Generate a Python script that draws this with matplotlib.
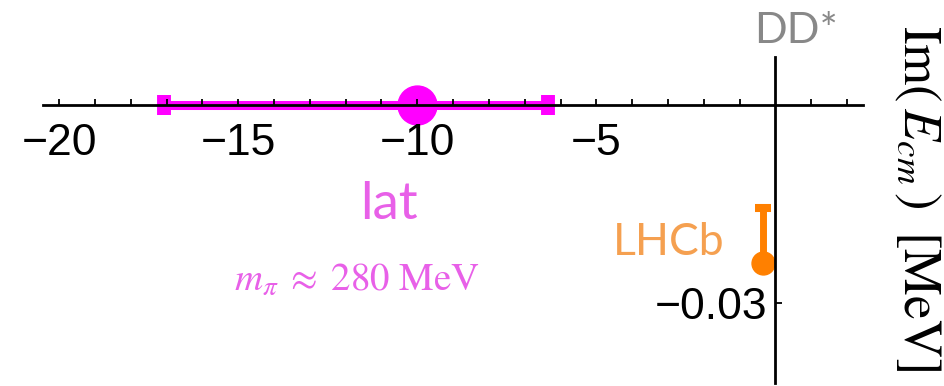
import matplotlib
matplotlib.use("Agg")
import matplotlib.pyplot as plt
from matplotlib.ticker import FixedLocator

plt.rcParams['mathtext.fontset'] = 'stix'

# ---- data ----
lat_re = [-10.0]
lat_im = [0.0]
lat_re_lo = [-17.07]
lat_re_hi = [-6.34]

lhcb_re = [-0.34]
lhcb_im = [-0.0240]
lhcb_im_hi = [-0.0156]

x_major = [-20, -15, -10, -5]
x_major_labels = ["\u221220", "\u221215", "\u221210", "\u22125"]
x_minor = [v for v in range(-20, 3) if v not in (-20, -15, -10, -5, 0)]
y_major = [-0.03]
y_major_labels = ["\u22120.03"]

W, H = 944, 386
fig = plt.figure(figsize=(W / 100, H / 100), dpi=100)
ax = fig.add_axes([0, 0, 1, 1])
ax.patch.set_alpha(0)
ax.set_xlim(-21.656, 4.712)
ax.set_ylim(-0.04264, 0.015933)

for s in ('top', 'right'):
    ax.spines[s].set_visible(False)
ax.spines['left'].set_position(('data', 0))
ax.spines['bottom'].set_position(('data', 0))
ax.spines['left'].set_bounds(-0.0422, 0.0073)
ax.spines['bottom'].set_bounds(-20.45, 2.46)
for s in ('left', 'bottom'):
    ax.spines[s].set_linewidth(2.0)
    ax.spines[s].set_zorder(5)

ax.set_xticks(x_major, labels=x_major_labels)
ax.xaxis.set_minor_locator(FixedLocator(x_minor))
ax.set_yticks(y_major, labels=y_major_labels)
ax.tick_params(axis='x', which='both', direction='in', length=4, width=1.3, pad=13,
               labelsize=32)
ax.tick_params(axis='y', which='both', direction='in', length=5, width=1.3, pad=6,
               labelsize=32)
for lab in ax.get_xticklabels() + ax.get_yticklabels():
    lab.set_family('Liberation Sans')

# lattice point with horizontal error bar
ax.errorbar(lat_re, lat_im,
            xerr=[[lat_re[0] - lat_re_lo[0]], [lat_re_hi[0] - lat_re[0]]],
            fmt='o', color='#FF00FF', ms=28, elinewidth=6.5,
            capsize=7.2, capthick=10, zorder=1)

# LHCb point with upper error
ax.errorbar(lhcb_re, lhcb_im,
            yerr=[[0.0], [lhcb_im_hi[0] - lhcb_im[0]]],
            fmt='o', color='#FF8000', ms=16.5, elinewidth=5,
            capsize=5.8, capthick=5.8, zorder=1)

# texts
fig.text(389 / W, 1 - 219 / H, 'lat', ha='center', va='baseline',
         fontsize=38, color='#E860E8', family='Lato')
fig.text(357 / W, 1 - 290 / H, r'$m_{\pi}\;\approx\;280\ \mathrm{MeV}$',
         ha='center', va='baseline', fontsize=28, color='#E860E8')
fig.text(669 / W, 1 - 255 / H, 'LHCb', ha='center', va='baseline',
         fontsize=32, color='#F5A050', family='Lato')
fig.text(796 / W, 1 - 43 / H, 'DD*', ha='center', va='baseline',
         fontsize=31, color='#888888', family='Lato')
fig.text(918 / W, 1 - 198 / H, r'$\mathrm{Im}(\,E_{cm}\,)\;\;[\mathrm{MeV}]$',
         rotation=-90, ha='center', va='center', fontsize=38, color='black')

fig.savefig('out.png', dpi=100)
